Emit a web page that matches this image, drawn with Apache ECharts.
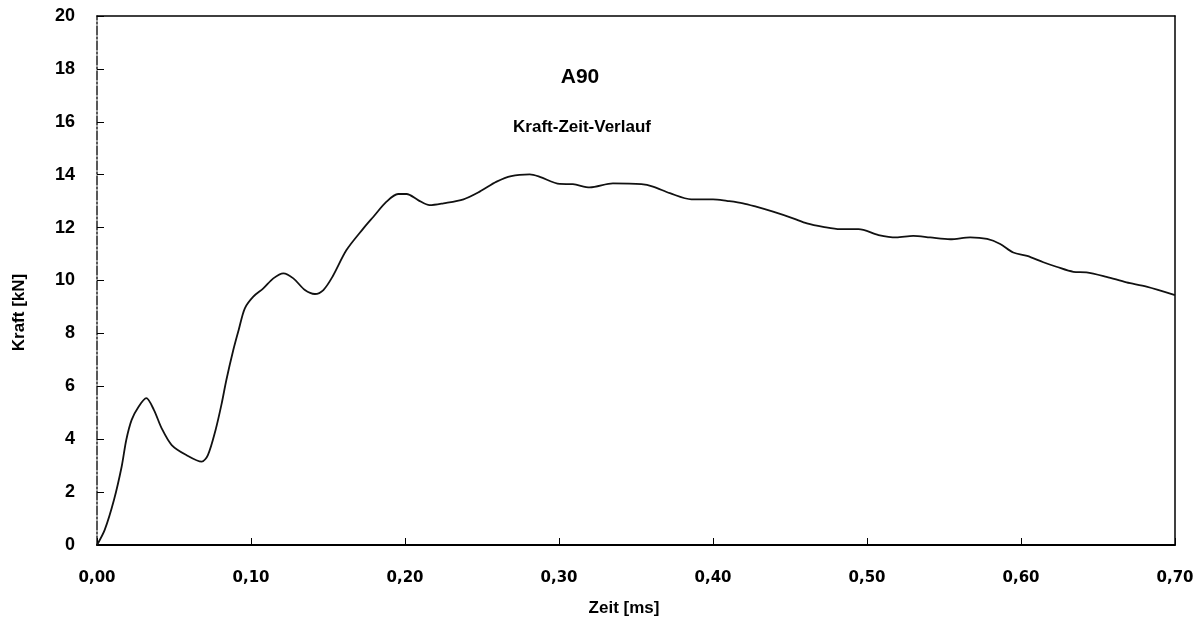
<!DOCTYPE html>
<html>
<head>
<meta charset="utf-8">
<script src="https://cdn.jsdelivr.net/npm/echarts@6/dist/echarts.min.js"></script>
<style>
  html, body { margin: 0; padding: 0; background: #fff; }
  #chart { width: 1200px; height: 621px; }
</style>
</head>
<body>
<div id="chart"></div>
<script>
// Kraft-Zeit-Verlauf A90
var zeit = [
  0.000, 0.005, 0.011, 0.016, 0.019, 0.0225, 0.027, 0.032, 0.037, 0.042,
  0.0485, 0.058, 0.068, 0.072, 0.077, 0.081, 0.084, 0.0885, 0.092, 0.096,
  0.1015, 0.108, 0.1145, 0.121, 0.1275, 0.135, 0.1415, 0.147, 0.153, 0.162,
  0.173, 0.1795, 0.188, 0.1955, 0.201, 0.2085, 0.216, 0.225, 0.238, 0.2485,
  0.2595, 0.269, 0.281, 0.2875, 0.3005, 0.309, 0.320, 0.335, 0.3535, 0.361,
  0.372, 0.386, 0.400, 0.409, 0.4195, 0.428, 0.439, 0.452, 0.461, 0.4715,
  0.4825, 0.4945, 0.5075, 0.519, 0.530, 0.541, 0.554, 0.567, 0.578, 0.5865,
  0.595, 0.604, 0.6145, 0.623, 0.634, 0.6425, 0.6555, 0.6685, 0.6815, 0.700
]
var kraft = [
  0.00, 0.57, 1.70, 2.96, 3.97, 4.73, 5.23, 5.55, 5.10, 4.41,
  3.78, 3.40, 3.15, 3.40, 4.35, 5.36, 6.24, 7.37, 8.13, 8.95,
  9.39, 9.70, 10.08, 10.27, 10.08, 9.64, 9.49, 9.64, 10.15, 11.15,
  11.97, 12.41, 12.98, 13.27, 13.27, 13.04, 12.85, 12.92, 13.07, 13.36,
  13.74, 13.95, 14.01, 13.92, 13.65, 13.64, 13.52, 13.67, 13.64, 13.55,
  13.30, 13.07, 13.07, 13.01, 12.92, 12.79, 12.60, 12.35, 12.16, 12.03,
  11.94, 11.94, 11.72, 11.63, 11.69, 11.63, 11.56, 11.63, 11.57, 11.38,
  11.06, 10.93, 10.69, 10.52, 10.33, 10.31, 10.14, 9.93, 9.77, 9.45
]

var font = 'Liberation Sans, Arial, sans-serif'
var wideFont = 'DejaVu Sans, sans-serif'
var points = zeit.map(function (t, i) { return [t, kraft[i]] })

var myChart = echarts.init(document.getElementById('chart'))
var option = {
  animation: false,
  backgroundColor: '#fff',
  title: [
    {
      text: 'A90',
      left: 575, top: 62, textAlign: 'center',
      textStyle: { fontFamily: font, fontSize: 21, fontWeight: 'bold', color: '#000' }
    },
    {
      text: 'Kraft-Zeit-Verlauf',
      left: 577, top: 114, textAlign: 'center',
      textStyle: { fontFamily: font, fontSize: 17, fontWeight: 'bold', color: '#000' }
    }
  ],
  grid: {
    left: 97, right: 25, top: 16, bottom: 76,
    outerBoundsMode: 'none'
  },
  xAxis: [
    {
      type: 'value',
      min: 0, max: 0.7, interval: 0.1,
      name: 'Zeit [ms]',
      nameLocation: 'middle',
      nameGap: 55,
      nameTextStyle: {
        fontFamily: font, fontSize: 17, fontWeight: 'bold', color: '#000',
        padding: [0, 24, 0, 0]
      },
      axisLine: { show: true, onZero: false, lineStyle: { color: '#000', width: 2 } },
      axisTick: { show: true, inside: true, length: 7, lineStyle: { color: '#000' } },
      axisLabel: {
        margin: 26,
        fontFamily: wideFont, fontSize: 15, fontWeight: 'bold', color: '#000',
        formatter: function (v) { return v.toFixed(2).replace('.', ',') }
      },
      splitLine: { show: false }
    },
    {
      // obere Rahmenlinie
      type: 'value',
      position: 'top',
      min: 0, max: 0.7,
      axisLine: { show: true, onZero: false, lineStyle: { color: '#000', width: 1.5 } },
      axisTick: { show: false },
      axisLabel: { show: false },
      splitLine: { show: false }
    }
  ],
  yAxis: [
    {
      type: 'value',
      min: 0, max: 20, interval: 2,
      name: 'Kraft [kN]',
      nameLocation: 'middle',
      nameGap: 69,
      nameTextStyle: {
        fontFamily: font, fontSize: 17, fontWeight: 'bold', color: '#000',
        padding: [0, 64, 0, 0]
      },
      axisLine: { show: true, onZero: false, lineStyle: { color: '#222', width: 1.5, type: [9, 2, 2, 2] } },
      axisTick: { show: true, inside: true, length: 7, lineStyle: { color: '#000' } },
      axisLabel: { margin: 22, fontFamily: font, fontSize: 18, fontWeight: 'bold', color: '#000' },
      splitLine: { show: false }
    },
    {
      // rechte Rahmenlinie
      type: 'value',
      position: 'right',
      min: 0, max: 20,
      axisLine: { show: true, onZero: false, lineStyle: { color: '#000', width: 1.5 } },
      axisTick: { show: false },
      axisLabel: { show: false },
      splitLine: { show: false }
    }
  ],
  series: [
    {
      name: 'Kraft',
      type: 'line',
      data: points,
      smooth: 0.3,
      showSymbol: false,
      lineStyle: { color: '#111', width: 1.8 }
    }
  ]
}
myChart.setOption(option)
window.addEventListener('resize', function () {
  myChart.resize()
})
</script>
</body>
</html>
